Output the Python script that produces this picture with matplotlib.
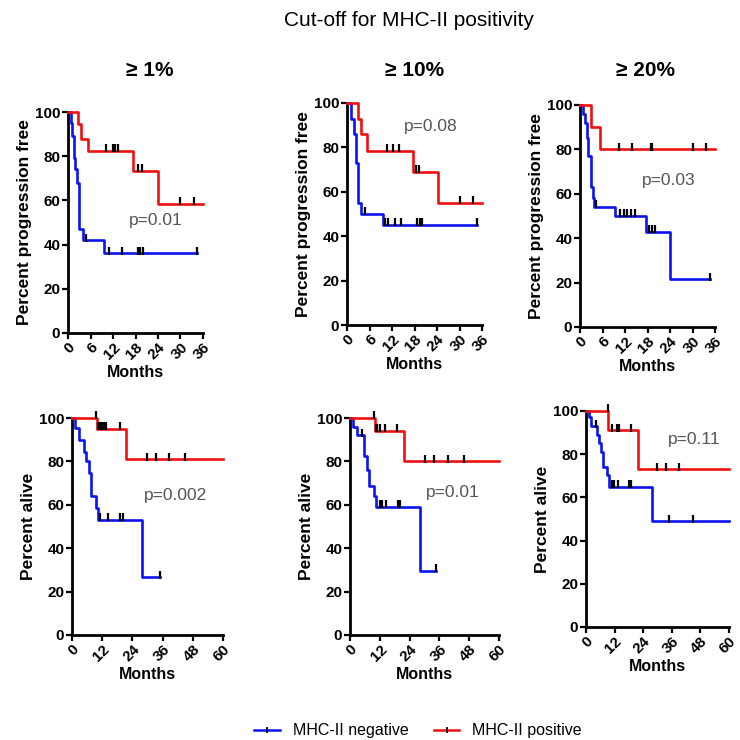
import matplotlib
matplotlib.use("Agg")
import matplotlib.pyplot as plt
import numpy as np
from matplotlib.lines import Line2D

plt.rcParams["font.family"] = ["Liberation Sans", "DejaVu Sans"]

# ----- Data -----
# step times (months), survival level (%) from that time on, end of follow-up, censored times

# PFS, cut-off >= 1%
pfs1_neg_t = [0, 0.7, 1.1, 1.5, 1.9, 2.3, 2.9, 3.9, 9.5]
pfs1_neg_s = [100, 95, 89, 79, 74, 68, 47, 42, 36]
pfs1_neg_end = 34.5
pfs1_neg_c = [4.7, 11, 14.5, 18.7, 19.2, 20, 34.5]
pfs1_pos_t = [0, 2.7, 3.4, 5.2, 17.3, 24]
pfs1_pos_s = [100, 94.5, 88, 82.5, 73.5, 58.5]
pfs1_pos_end = 36
pfs1_pos_c = [10, 11.9, 12.6, 13.4, 18.6, 19.8, 30, 33.6]

# PFS, cut-off >= 10%
pfs10_neg_t = [0, 1.1, 1.8, 2.3, 2.9, 3.6, 9.5]
pfs10_neg_s = [100, 93, 86, 73, 55, 50, 45]
pfs10_neg_end = 34.7
pfs10_neg_c = [4.9, 10, 11, 12.9, 14.4, 18.7, 19.5, 20, 34.7]
pfs10_pos_t = [0, 2.8, 3.6, 5.2, 17.5, 24.2]
pfs10_pos_s = [100, 93, 86, 78.5, 69, 55]
pfs10_pos_end = 36
pfs10_pos_c = [10.7, 12.3, 13.9, 18.5, 19.1, 30, 33.6]

# PFS, cut-off >= 20%
pfs20_neg_t = [0, 0.7, 1.2, 1.8, 2.2, 2.8, 3.4, 3.8, 9.3, 17.5, 24.1]
pfs20_neg_s = [100, 96, 92, 85, 77, 63, 58, 54, 50, 43, 21.5]
pfs20_neg_end = 34.6
pfs20_neg_c = [4.2, 10.7, 11.6, 12.4, 13.6, 14.7, 18.5, 19.1, 20, 34.6]
pfs20_pos_t = [0, 2.8, 5.2]
pfs20_pos_s = [100, 90, 80]
pfs20_pos_end = 36
pfs20_pos_c = [10.5, 13.9, 18.8, 19.1, 30, 33.6]

# OS, cut-off >= 1%
os1_neg_t = [0, 1.2, 2.6, 4.9, 5.6, 6.6, 7.5, 9.5, 10.3, 27.7]
os1_neg_s = [100, 95.5, 90, 84.5, 80, 74.5, 64, 58.5, 53, 26.5]
os1_neg_end = 35
os1_neg_c = [11.2, 14.5, 18.9, 20.2, 35]
os1_pos_t = [0, 9.9, 21.5]
os1_pos_s = [100, 95, 81]
os1_pos_end = 60
os1_pos_c = [9.6, 10.5, 11.2, 12, 12.7, 13.5, 19, 29.7, 33.4, 38.6, 45]

# OS, cut-off >= 10%
os10_neg_t = [0, 1.3, 2.7, 5.6, 6.7, 7.6, 9.6, 10.4, 28.1]
os10_neg_s = [100, 96, 92, 82.5, 76, 68.5, 64, 59, 29.5]
os10_neg_end = 34.8
os10_neg_c = [5.0, 12, 13, 14.4, 19.3, 20.2, 34.8]
os10_pos_t = [0, 10, 21.8]
os10_pos_s = [100, 94, 80]
os10_pos_end = 60
os10_pos_c = [9.6, 10.5, 11, 12, 14, 19, 30, 33.9, 39.5, 45.8]

# OS, cut-off >= 20%
os20_neg_t = [0, 1.3, 2.3, 4.7, 5.4, 6.3, 7.1, 9.0, 9.7, 27.5]
os20_neg_s = [100, 97, 93, 89, 85, 81, 74, 70.5, 65, 49]
os20_neg_end = 60
os20_neg_c = [4.0, 10.7, 11.7, 13.4, 18.1, 18.8, 34.9, 45]
os20_pos_t = [0, 9.4, 21.7]
os20_pos_s = [100, 91, 73]
os20_pos_end = 60
os20_pos_c = [9.2, 10.7, 12.8, 14, 18.8, 29.8, 33.5, 38.9]

cutoffs = ["\u2265 1%", "\u2265 10%", "\u2265 20%"]
p_pfs = ["p=0.01", "p=0.08", "p=0.03"]
p_os = ["p=0.002", "p=0.01", "p=0.11"]
p_pfs_xy = [(16.2, 51), (15.3, 89.5), (16.5, 66)]
p_os_xy = [(28.5, 64.5), (30.5, 65.5), (34.5, 87)]

BLUE = "#0a14f0"
RED = "#f01010"


def km(ax, t, s, end, cens, color):
    t = np.asarray(t, float)
    s = np.asarray(s, float)
    ax.step(np.r_[t, end], np.r_[s, s[-1]], where="post", color=color,
            lw=1.9, clip_on=False, zorder=3)
    idx = np.searchsorted(t, cens, side="right") - 1
    ax.plot(cens, s[idx] + 1.2, ls="none", marker="|", ms=6, mew=1.6,
            color="black", clip_on=False, zorder=4)


def style(ax, xmax, step, ylabel):
    ax.set_xlim(0, xmax)
    ax.set_ylim(0, 100)
    ax.set_xticks(np.arange(0, xmax + 1, step))
    ax.set_yticks(np.arange(0, 101, 20))
    for sp in ["top", "right"]:
        ax.spines[sp].set_visible(False)
    for sp in ["left", "bottom"]:
        ax.spines[sp].set_linewidth(2)
    ax.tick_params(width=1.6, length=4.5, labelsize=11, pad=1)
    for lab in ax.get_xticklabels():
        lab.set_rotation(45)
        lab.set_ha("right")
        lab.set_rotation_mode("anchor")
    for lab in ax.get_xticklabels() + ax.get_yticklabels():
        lab.set_fontweight("bold")
    ax.set_xlabel("Months", fontsize=11.5, fontweight="bold", labelpad=2)
    ax.set_ylabel(ylabel, fontsize=12.5, fontweight="bold", labelpad=2)


fig = plt.figure(figsize=(7.4, 7.4), dpi=100)
W = H = 740.0


def box(x0, x1, y0, y1):
    return [x0 / W, 1 - y1 / H, (x1 - x0) / W, (y1 - y0) / H]


top_boxes = [box(68, 203, 112, 333), box(347, 482, 103, 325), box(580, 715, 105, 327)]
bot_boxes = [box(72, 223, 418, 635), box(350, 499, 418, 635), box(586, 729, 411, 627)]

pfs = [
    (pfs1_neg_t, pfs1_neg_s, pfs1_neg_end, pfs1_neg_c, pfs1_pos_t, pfs1_pos_s, pfs1_pos_end, pfs1_pos_c),
    (pfs10_neg_t, pfs10_neg_s, pfs10_neg_end, pfs10_neg_c, pfs10_pos_t, pfs10_pos_s, pfs10_pos_end, pfs10_pos_c),
    (pfs20_neg_t, pfs20_neg_s, pfs20_neg_end, pfs20_neg_c, pfs20_pos_t, pfs20_pos_s, pfs20_pos_end, pfs20_pos_c),
]
os_ = [
    (os1_neg_t, os1_neg_s, os1_neg_end, os1_neg_c, os1_pos_t, os1_pos_s, os1_pos_end, os1_pos_c),
    (os10_neg_t, os10_neg_s, os10_neg_end, os10_neg_c, os10_pos_t, os10_pos_s, os10_pos_end, os10_pos_c),
    (os20_neg_t, os20_neg_s, os20_neg_end, os20_neg_c, os20_pos_t, os20_pos_s, os20_pos_end, os20_pos_c),
]

for i in range(3):
    ax = fig.add_axes(top_boxes[i])
    d = pfs[i]
    km(ax, d[0], d[1], d[2], d[3], BLUE)
    km(ax, d[4], d[5], d[6], d[7], RED)
    style(ax, 36, 6, "Percent progression free")
    ax.text(*p_pfs_xy[i], p_pfs[i], fontsize=12.5, color="#555555", va="center")

    ax = fig.add_axes(bot_boxes[i])
    d = os_[i]
    km(ax, d[0], d[1], d[2], d[3], BLUE)
    km(ax, d[4], d[5], d[6], d[7], RED)
    style(ax, 60, 12, "Percent alive")
    ax.text(*p_os_xy[i], p_os[i], fontsize=12.5, color="#555555", va="center")

for x, lab in zip([150, 415, 645], cutoffs):
    fig.text(x / W, 1 - 70 / H, lab, fontsize=15, fontweight="bold",
             ha="center", va="center")

fig.text(409 / W, 1 - 20 / H, "Cut-off for MHC-II positivity", fontsize=15,
         ha="center", va="center")

handles = [
    Line2D([], [], color=BLUE, lw=1.8, marker="|", ms=5, mec="black", mew=1.2),
    Line2D([], [], color=RED, lw=1.8, marker="|", ms=5, mec="black", mew=1.2),
]
fig.legend(handles, ["MHC-II negative", "MHC-II positive"], loc="center",
           bbox_to_anchor=(418 / W, 1 - 731 / H), ncol=2, frameon=False,
           fontsize=11.5, handlelength=1.6, columnspacing=1.6, handletextpad=0.8)

fig.savefig("out.png", dpi=100)
